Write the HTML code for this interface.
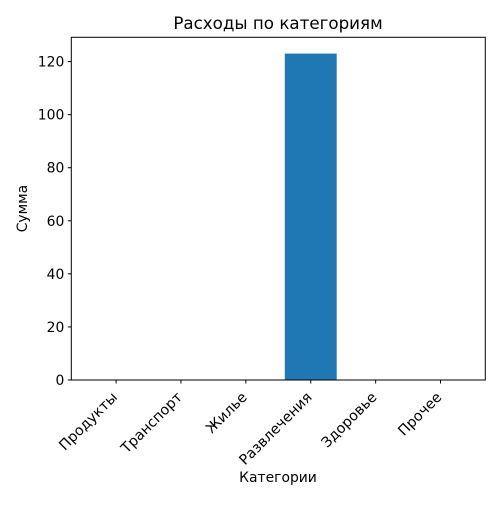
<!DOCTYPE html>
<html><head><meta charset="utf-8"><style>
body{margin:0;background:#fff;}
svg text{font-family:"DejaVu Sans","Liberation Sans",sans-serif;fill:#000;}
</style></head><body>
<svg width="500" height="500" xmlns="http://www.w3.org/2000/svg">
<rect width="500" height="500" fill="#fff"/>
<text x="278" y="29" font-size="16.7" text-anchor="middle">Расходы по категориям</text>
<g id="plot"></g>
<rect x="71.3" y="37.3" width="414" height="342.7" fill="none" stroke="#000" stroke-width="1"/>
<text x="278" y="482" font-size="13.9" text-anchor="middle">Категории</text>
<text transform="translate(27,208.6) rotate(-90)" font-size="13.9" text-anchor="middle">Сумма</text>
</svg>
<script>
const categories=["Продукты","Транспорт","Жилье","Развлечения","Здоровье","Прочее"];
const values=[0,0,0,123,0,0];
const yTicks=[0,20,40,60,80,100,120];
const L=71.3,R=485.3,T=37.3,B=380;
const xmin=-0.69,xmax=5.69,ymax=129.15;
const xs=i=>L+(i-xmin)/(xmax-xmin)*(R-L);
const ys=v=>B-v/ymax*(B-T);
const g=document.getElementById('plot');
const NS="http://www.w3.org/2000/svg";
function mk(t,a){const e=document.createElementNS(NS,t);for(const k in a)e.setAttribute(k,a[k]);g.appendChild(e);return e;}
const bw=(xs(0.8)-xs(0));
values.forEach((v,i)=>{
  const r=mk('rect',{x:xs(i)-bw/2,y:ys(v),width:bw,height:B-ys(v),fill:'#1f77b4'});
  
  
});
categories.forEach((c,i)=>{
  const x=xs(i);
  const t=mk('line',{x1:x,x2:x,y1:B,y2:B+3.5,stroke:'#000'});
  
  
  const l=mk('text',{transform:`translate(${x+2},${B+18}) rotate(-45)`,'font-size':'14.3','text-anchor':'end'});
  l.textContent=c;
  
  
});
yTicks.forEach(v=>{
  const y=ys(v);
  const t=mk('line',{x1:L-3.5,x2:L,y1:y,y2:y,stroke:'#000'});
  
  
  const l=mk('text',{x:L-7,y:y+5,'font-size':'13.9','text-anchor':'end'});
  l.textContent=v;
  
  
});
</script>
</body></html>
